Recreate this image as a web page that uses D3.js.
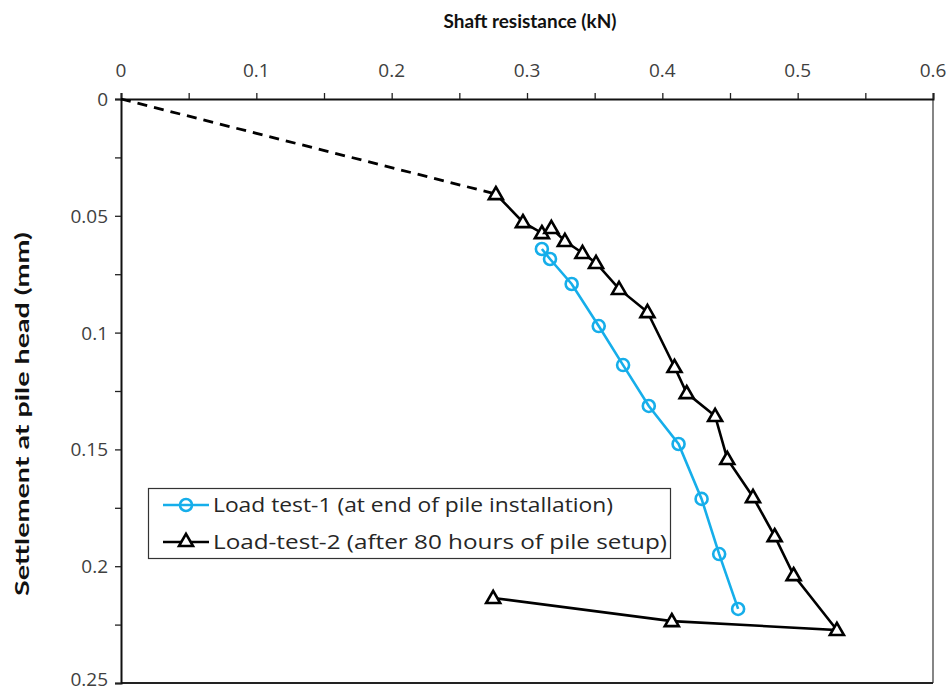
<!DOCTYPE html>
<html><head><meta charset="utf-8">
<script src="https://cdn.jsdelivr.net/npm/d3@7"></script>
<style>
body{margin:0;background:#fff;}
text{font-family:"Open Sans",Lato,sans-serif;}
</style></head>
<body><svg id="c" width="946" height="692"></svg>
<script>
const xTicks = [0,0.1,0.2,0.3,0.4,0.5,0.6];
const yTicks = [0,0.05,0.1,0.15,0.2,0.25];
const test1X = [0.311,0.317,0.333,0.353,0.371,0.390,0.412,0.429,0.442,0.456];
const test1Y = [0.0642,0.0685,0.0792,0.0972,0.1139,0.1314,0.1477,0.1712,0.1948,0.2183];
const test2X = [0.277,0.297,0.311,0.318,0.328,0.341,0.351,0.368,0.389,0.409,0.418,0.439,0.448,0.467,0.483,0.497,0.529,0.407,0.275];
const test2Y = [0.0407,0.0527,0.0574,0.0552,0.0608,0.0659,0.0702,0.0813,0.0912,0.1147,0.1259,0.1357,0.1541,0.1704,0.1871,0.2038,0.2273,0.2235,0.2136];
const dashX = [0,0.277];
const dashY = [0,0.0407];
const seriesNames = ["Load test-1 (at end of pile installation)","Load-test-2 (after 80 hours of pile setup)"];
const xTitle = "Shaft resistance (kN)";
const yTitle = "Settlement at pile head (mm)";

const svg = d3.select("#c");
const L=121,R=933,T=99,B=683;
const x = d3.scaleLinear().domain([0,0.6]).range([L,R]);
const y = d3.scaleLinear().domain([0,0.25]).range([T,B]);
const blue="#16AEEA";

// frame (right and bottom)
svg.append("line").attr("x1",R).attr("x2",R).attr("y1",T).attr("y2",B).attr("stroke","#444").attr("stroke-width",1.3);
svg.append("line").attr("x1",L).attr("x2",R).attr("y1",B).attr("y2",B).attr("stroke","#222").attr("stroke-width",2);

// axes
const xAx = d3.axisTop(x).tickValues(d3.range(0,0.6001,0.05)).tickSize(6).tickFormat("");
const gx = svg.append("g").attr("transform",`translate(0,${T})`).call(xAx);
const yAx = d3.axisLeft(y).tickValues(d3.range(0,0.2501,0.025)).tickSize(6).tickFormat("");
const gy = svg.append("g").attr("transform",`translate(${L},0)`).call(yAx);
[gx,gy].forEach(g=>{g.selectAll("path").attr("stroke","#111").attr("stroke-width",2);
  g.selectAll("line").attr("stroke","#222").attr("stroke-width",1.3);});

svg.append("g").selectAll("text").data(xTicks).join("text")
  .attr("x",d=>x(d)).attr("y",77).attr("text-anchor","middle")
  .attr("font-size",19).attr("fill","#404040").text(d=>d);
svg.append("g").selectAll("text").data(yTicks).join("text")
  .attr("x",108).attr("y",d=>Math.min(y(d)+7,686)).attr("text-anchor","end")
  .attr("font-size",19).attr("fill","#404040").text(d=>d);

svg.append("text").attr("x",530).attr("y",28).attr("text-anchor","middle")
  .attr("font-size",19).attr("font-weight","bold").attr("fill","#111")
  .style("font-family","Lato,sans-serif").attr("textLength",173).attr("lengthAdjust","spacingAndGlyphs").text(xTitle);
svg.append("text").attr("transform","translate(29,414) rotate(-90)").attr("text-anchor","middle")
  .attr("font-size",19).attr("font-weight","bold").attr("fill","#111")
  .style("font-family","Lato,sans-serif").attr("textLength",364).attr("lengthAdjust","spacingAndGlyphs").text(yTitle);

const line = d3.line().x(d=>x(d[0])).y(d=>y(d[1]));
const d1 = test1X.map((v,i)=>[v,test1Y[i]]);
const d2 = test2X.map((v,i)=>[v,test2Y[i]]);
const dd = dashX.map((v,i)=>[v,dashY[i]]);

svg.append("path").datum(dd).attr("d",line).attr("fill","none").attr("stroke","#000")
  .attr("stroke-width",2.8).attr("stroke-dasharray","10,7");
svg.append("path").datum(d2).attr("d",line).attr("fill","none").attr("stroke","#000").attr("stroke-width",2.6);
svg.append("path").datum(d1).attr("d",line).attr("fill","none").attr("stroke",blue).attr("stroke-width",2.6);

const tri = d3.symbol().type(d3.symbolTriangle).size(85);
svg.append("g").selectAll("path").data(d2).join("path")
  .attr("d",tri).attr("transform",d=>`translate(${x(d[0])},${y(d[1])+1})`)
  .attr("fill","#fff").attr("stroke","#000").attr("stroke-width",2.6);
svg.append("g").selectAll("circle").data(d1).join("circle")
  .attr("cx",d=>x(d[0])).attr("cy",d=>y(d[1])).attr("r",6)
  .attr("fill","none").attr("stroke",blue).attr("stroke-width",2.6);

// legend
const lg = svg.append("g");
lg.append("rect").attr("x",148.5).attr("y",488.5).attr("width",522).attr("height",70)
  .attr("fill","#fff").attr("stroke","#333").attr("stroke-width",1.2);
const rows=[505,542];
const widths=[400,454];
lg.append("line").attr("x1",163).attr("x2",209).attr("y1",rows[0]).attr("y2",rows[0]).attr("stroke",blue).attr("stroke-width",2.6);
lg.append("circle").attr("cx",186).attr("cy",rows[0]).attr("r",6).attr("fill","none").attr("stroke",blue).attr("stroke-width",2.6);
lg.append("line").attr("x1",163).attr("x2",209).attr("y1",rows[1]).attr("y2",rows[1]).attr("stroke","#000").attr("stroke-width",2.6);
lg.append("path").attr("d",tri).attr("transform",`translate(186,${rows[1]})`).attr("fill","#fff").attr("stroke","#000").attr("stroke-width",2.6);
lg.selectAll("text.l").data(seriesNames).join("text").attr("class","l")
  .attr("x",213).attr("y",(d,i)=>rows[i]+7).attr("font-size",20).attr("fill","#262626")
  .attr("textLength",(d,i)=>widths[i]).attr("lengthAdjust","spacingAndGlyphs").text(d=>d);
</script></body></html>
